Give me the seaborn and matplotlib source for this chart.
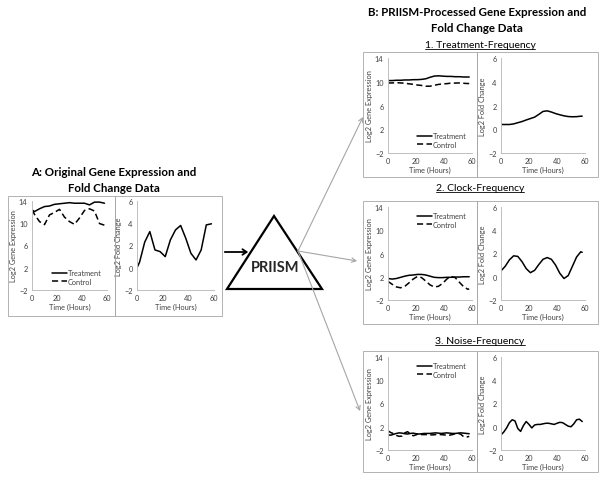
import matplotlib
matplotlib.use("Agg")
import matplotlib.pyplot as plt
import seaborn as sns
from matplotlib.patches import Rectangle, Polygon, FancyArrowPatch
from matplotlib.lines import Line2D

sns.set_style("white")
plt.rcParams["font.family"] = ["Lato", "DejaVu Sans"]

W, H = 600, 481

# ---- data: panel A (original) ----
a_hours = [0, 2, 6, 10, 14, 18, 22, 26, 30, 34, 38, 42, 46, 50, 54, 58]
a_treatment = [12.4, 12.1, 12.6, 13.0, 13.1, 13.4, 13.5, 13.6, 13.7, 13.6, 13.6, 13.6, 13.3, 13.8, 13.8, 13.6]
a_control = [12.4, 11.6, 10.3, 9.75, 11.5, 11.95, 12.5, 11.1, 10.3, 9.8, 10.95, 12.3, 12.6, 12.2, 9.95, 9.65]
a_fold = [0.0, 0.5, 2.3, 3.25, 1.6, 1.45, 1.0, 2.5, 3.4, 3.8, 2.65, 1.3, 0.7, 1.6, 3.85, 3.95]

# ---- data: panel B1 (treatment-frequency) ----
b_hours = [0, 3, 6, 9, 12, 15, 18, 21, 24, 27, 30, 33, 36, 39, 42, 45, 48, 51, 54, 57, 58]
b1_treatment = [10.2, 10.2, 10.25, 10.25, 10.3, 10.3, 10.35, 10.35, 10.4, 10.5, 10.75, 10.95, 11.0, 10.95,
                10.9, 10.9, 10.85, 10.85, 10.8, 10.8, 10.8]
b1_control = [9.8, 9.8, 9.85, 9.8, 9.75, 9.65, 9.57, 9.45, 9.38, 9.25, 9.25, 9.4, 9.55, 9.63,
              9.68, 9.77, 9.78, 9.8, 9.74, 9.7, 9.7]
b1_fold = [0.4, 0.4, 0.4, 0.45, 0.55, 0.65, 0.78, 0.9, 1.02, 1.25, 1.5, 1.55, 1.45, 1.32,
           1.22, 1.13, 1.07, 1.05, 1.06, 1.1, 1.1]

# ---- data: panel B2 (clock-frequency) ----
b2_treatment = [1.7, 1.6, 1.7, 1.9, 2.1, 2.25, 2.3, 2.4, 2.4, 2.3, 2.1, 1.9, 1.85, 1.85,
                1.9, 1.9, 1.95, 1.95, 2.0, 2.0, 2.0]
b2_control = [1.2, 0.7, 0.25, 0.1, 0.35, 0.95, 1.6, 2.05, 1.85, 1.25, 0.6, 0.25, 0.35, 0.85,
              1.6, 2.05, 1.85, 1.05, 0.3, -0.15, -0.1]
b2_fold = [0.5, 0.9, 1.45, 1.8, 1.75, 1.3, 0.7, 0.35, 0.55, 1.05, 1.5, 1.65, 1.5, 1.0,
           0.3, -0.15, 0.1, 0.9, 1.7, 2.15, 2.1]

# ---- data: panel B3 (noise-frequency) ----
n_hours = list(range(0, 60, 2))
b3_treatment = [0.6, 0.55, 0.7, 0.85, 0.95, 0.9, 0.8, 0.75, 0.85, 0.9, 0.8, 0.75, 0.8, 0.85, 0.85,
                0.85, 0.9, 0.95, 0.9, 0.85, 0.9, 0.95, 0.9, 0.85, 0.85, 0.9, 0.95, 0.9, 0.85, 0.8]
b3_control = [1.3, 1.0, 0.8, 0.5, 0.35, 0.4, 0.95, 1.15, 0.75, 0.45, 0.6, 0.85, 0.65, 0.65, 0.65,
              0.6, 0.6, 0.65, 0.65, 0.65, 0.6, 0.57, 0.55, 0.65, 0.8, 0.9, 0.7, 0.3, 0.2, 0.35]
b3_fold = [-0.7, -0.45, -0.1, 0.35, 0.6, 0.5, -0.15, -0.4, 0.1, 0.45, 0.2, -0.1, 0.15, 0.2, 0.2,
           0.25, 0.3, 0.3, 0.25, 0.2, 0.3, 0.38, 0.35, 0.2, 0.05, 0.0, 0.25, 0.6, 0.65, 0.45]

expr_ticks = [-2, 2, 6, 10, 14]
fold_ticks = [-2, 0, 2, 4, 6]
time_ticks = [0, 20, 40, 60]

GRID = "#BFBFBF"
BOX = "#A6A6A6"
TXT = "#404040"
DASH = (0, (4, 2.2))
LW = 1.1

fig = plt.figure(figsize=(6.0, 4.81), dpi=100)


def px_rect(x0, y0, x1, y1):
    return [x0 / W, 1 - y1 / H, (x1 - x0) / W, (y1 - y0) / H]


def px(x, y):
    return (x / W, 1 - y / H)


def chart_box(x0, y0, x1, y1):
    fig.add_artist(Rectangle(px(x0, y1), (x1 - x0) / W, (y1 - y0) / H, transform=fig.transFigure,
                             fill=False, ec=BOX, lw=0.6))


def style_axes(ax, yticks, ylabel):
    ax.set_xlim(0, 60)
    ax.set_ylim(yticks[0], yticks[-1])
    ax.set_xticks(time_ticks)
    ax.set_yticks(yticks)
    for side in ["top", "right"]:
        ax.spines[side].set_visible(False)
    for side in ["left", "bottom"]:
        ax.spines[side].set_color(GRID)
        ax.spines[side].set_linewidth(0.7)
    ax.tick_params(axis="both", length=2, width=0.6, color=GRID, labelsize=5.3, labelcolor=TXT, pad=1.2)
    ax.set_xlabel("Time (Hours)", fontsize=5.3, color=TXT, labelpad=1)
    ax.set_ylabel(ylabel, fontsize=5.3, color=TXT, labelpad=1.5)
    ax.patch.set_alpha(0)


def expr_panel(rect, hours, treat, ctrl, legend_loc):
    ax = fig.add_axes(px_rect(*rect))
    sns.lineplot(x=hours, y=treat, ax=ax, color="black", lw=LW, label="Treatment")
    sns.lineplot(x=hours, y=ctrl, ax=ax, color="black", lw=LW, linestyle=DASH, label="Control")
    style_axes(ax, expr_ticks, "Log2 Gene Expression")
    ax.legend(loc=legend_loc, frameon=False, fontsize=5.3, handlelength=2.0, handletextpad=0.2,
              labelspacing=0.2, borderaxespad=0.3, labelcolor=TXT)
    return ax


def fold_panel(rect, hours, fold):
    ax = fig.add_axes(px_rect(*rect))
    sns.lineplot(x=hours, y=fold, ax=ax, color="black", lw=LW)
    style_axes(ax, fold_ticks, "Log2 Fold Change")
    return ax


# ---- panel A ----
chart_box(8, 197, 115, 317)
chart_box(115, 197, 222, 317)
expr_panel((32, 202, 107, 291), a_hours, a_treatment, a_control, "lower right")
fold_panel((137, 202, 214, 291), a_hours, a_fold)
fig.text(*px(114, 172), "A: Original Gene Expression and", ha="center", va="center",
         fontsize=8.3, fontweight="bold", color="black")
fig.text(*px(114, 188), "Fold Change Data", ha="center", va="center",
         fontsize=8.3, fontweight="bold", color="black")

# ---- panel B ----
fig.text(*px(477, 13), "B: PRIISM-Processed Gene Expression and", ha="center", va="center",
         fontsize=8.3, fontweight="bold", color="black")
fig.text(*px(477, 28), "Fold Change Data", ha="center", va="center",
         fontsize=8.3, fontweight="bold", color="black")

rows = [
    ("1. Treatment-Frequency", 46, 53, 178, 59, 154, b_hours, b1_treatment, b1_control, b1_fold, "lower right"),
    ("2. Clock-Frequency", 189, 202, 325, 208, 301, b_hours, b2_treatment, b2_control, b2_fold, "upper right"),
    ("3. Noise-Frequency", 342, 352, 473, 358, 451, n_hours, b3_treatment, b3_control, b3_fold, "upper right"),
]
subtitles = []
for title, ty, by0, by1, ay0, ay1, hrs, tr, ct, fd, loc in rows:
    chart_box(363, by0, 477, by1)
    chart_box(477, by0, 598, by1)
    expr_panel((388, ay0, 472, ay1), hrs, tr, ct, loc)
    fold_panel((501, ay0, 585, ay1), hrs, fd)
    subtitles.append(fig.text(*px(480, ty), title, ha="center", va="center", fontsize=7.5, color="black"))

# ---- PRIISM triangle and arrows ----
fig.add_artist(Polygon([px(274, 217), px(227, 290), px(322, 290)], closed=True, fill=False,
                       ec="black", lw=1.6, transform=fig.transFigure))
fig.text(*px(275, 268), "PRIISM", ha="center", va="center", fontsize=10.5, fontweight="bold")

fig.add_artist(FancyArrowPatch(px(222, 253), px(251, 253), transform=fig.transFigure,
                               arrowstyle="->,head_length=3,head_width=2", lw=1.3, color="black"))
for tx, ty in [(363, 118), (357, 262), (360, 412)]:
    fig.add_artist(FancyArrowPatch(px(298, 252), px(tx, ty), transform=fig.transFigure,
                                   arrowstyle="->,head_length=3,head_width=1.6", lw=0.8,
                                   color="#A6A6A6", shrinkA=0, shrinkB=0))

# underline subtitles
fig.canvas.draw()
renderer = fig.canvas.get_renderer()
for t in subtitles:
    bb = t.get_window_extent(renderer).transformed(fig.transFigure.inverted())
    fig.add_artist(Line2D([bb.x0, bb.x1], [bb.y0 + 0.002, bb.y0 + 0.002], transform=fig.transFigure,
                          color="black", lw=0.6))

fig.savefig("out.png", dpi=100)
